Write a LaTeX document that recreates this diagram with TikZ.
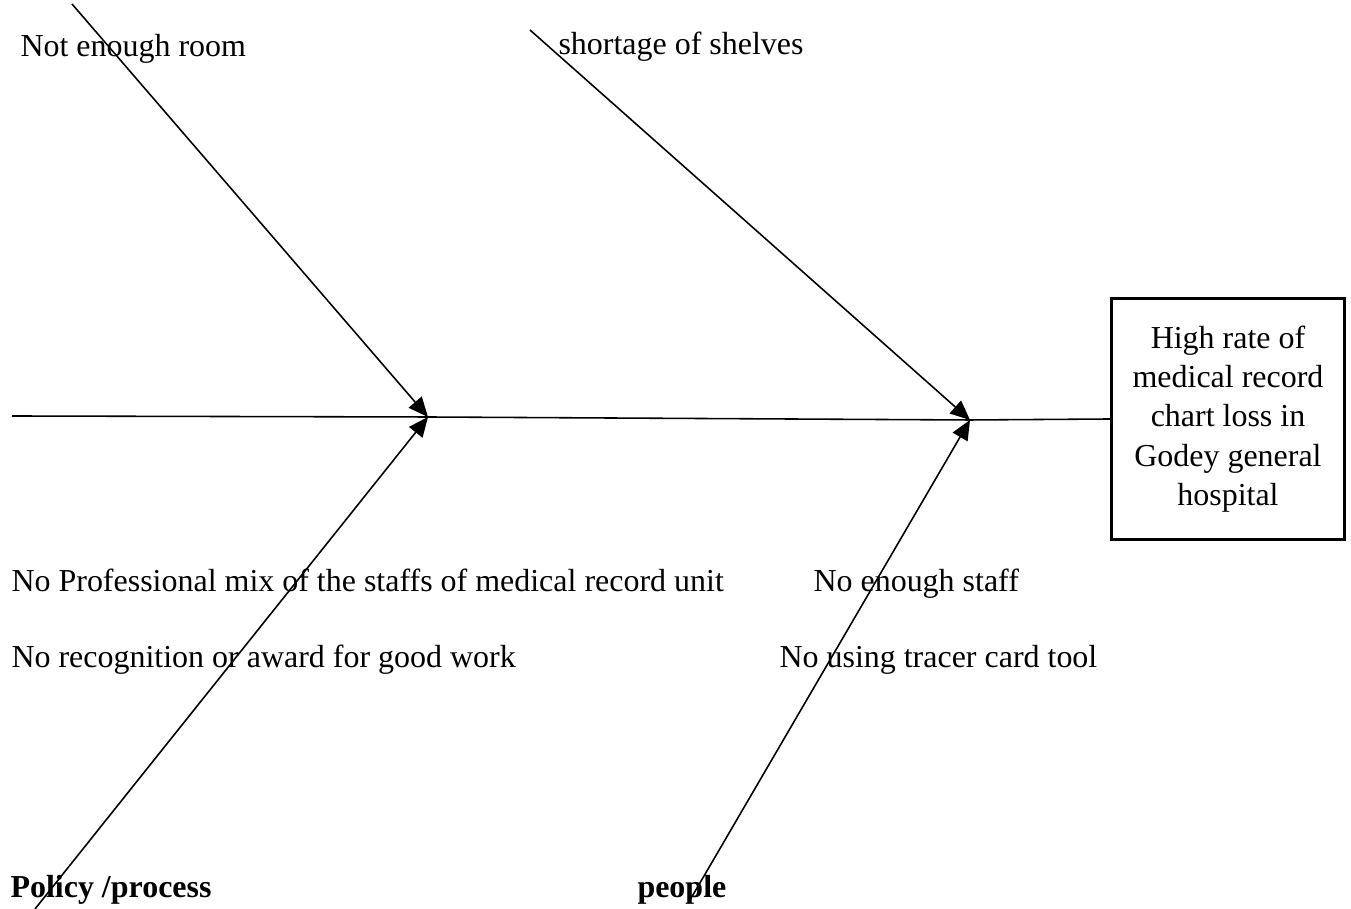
\documentclass[tikz,border=0pt]{standalone}
\usepackage{fontspec}
\setmainfont{Liberation Serif}
\usepackage{tikz}
\usetikzlibrary{
    arrows.meta,
    positioning
}

\begin{document}
\begin{tikzpicture}[
        x=0.01341cm,
        y=-0.01341cm,
        font=\fontsize{12.2pt}{15pt}\selectfont,
        effect/.style={
            rectangle,
            draw,
            line width=1.1pt,
            align=center,
            minimum width=89pt,
            minimum height=92pt,
            inner sep=2pt
        },
        cause/.style={
            anchor=base west,
            inner sep=0pt
        },
        category/.style={
            anchor=base west,
            inner sep=0pt,
            font=\fontsize{12.2pt}{15pt}\selectfont\bfseries
        },
        bone/.style={
            -{Triangle[length=7.5pt,width=6.5pt]},
            line width=0.6pt
        },
        spine/.style={
            line width=0.6pt
        }
    ]

    \useasboundingbox (0,0) rectangle (1351,909);

    \node[effect] (problem) at (1228,419) {High rate of\\medical record\\chart loss in\\Godey general\\hospital};

    \coordinate (tail) at (12,416);
    \coordinate (jointA) at (428,417);
    \coordinate (jointB) at (970,420);

    \coordinate (roomstart) at (72,4);
    \coordinate (shelfstart) at (530,30);
    \coordinate (policystart) at (35,909);
    \coordinate (peoplestart) at (690,900);

    \draw[spine] (tail) -- (jointA) -- (jointB) -- (problem.west);

    \draw[bone] (roomstart) -- (jointA);
    \draw[bone] (policystart) -- (jointA);
    \draw[bone] (shelfstart) -- (jointB);
    \draw[bone] (peoplestart) -- (jointB);

    \node[cause] (room) at (20,57) {Not enough room};
    \node[cause] (shelves) at (558,55) {shortage of shelves};
    \node[cause] (mix) at (11,592) {No Professional mix of the staffs of medical record unit};
    \node[cause] (award) at (11,668) {No recognition or award for good work};
    \node[cause] (staff) at (813,592) {No enough staff};
    \node[cause] (tracer) at (779,668) {No using tracer card tool};

    \node[category] (policy) at (10,898) {Policy /process};
    \node[category] (people) at (637,898) {people};

    \end{tikzpicture}
\end{document}
